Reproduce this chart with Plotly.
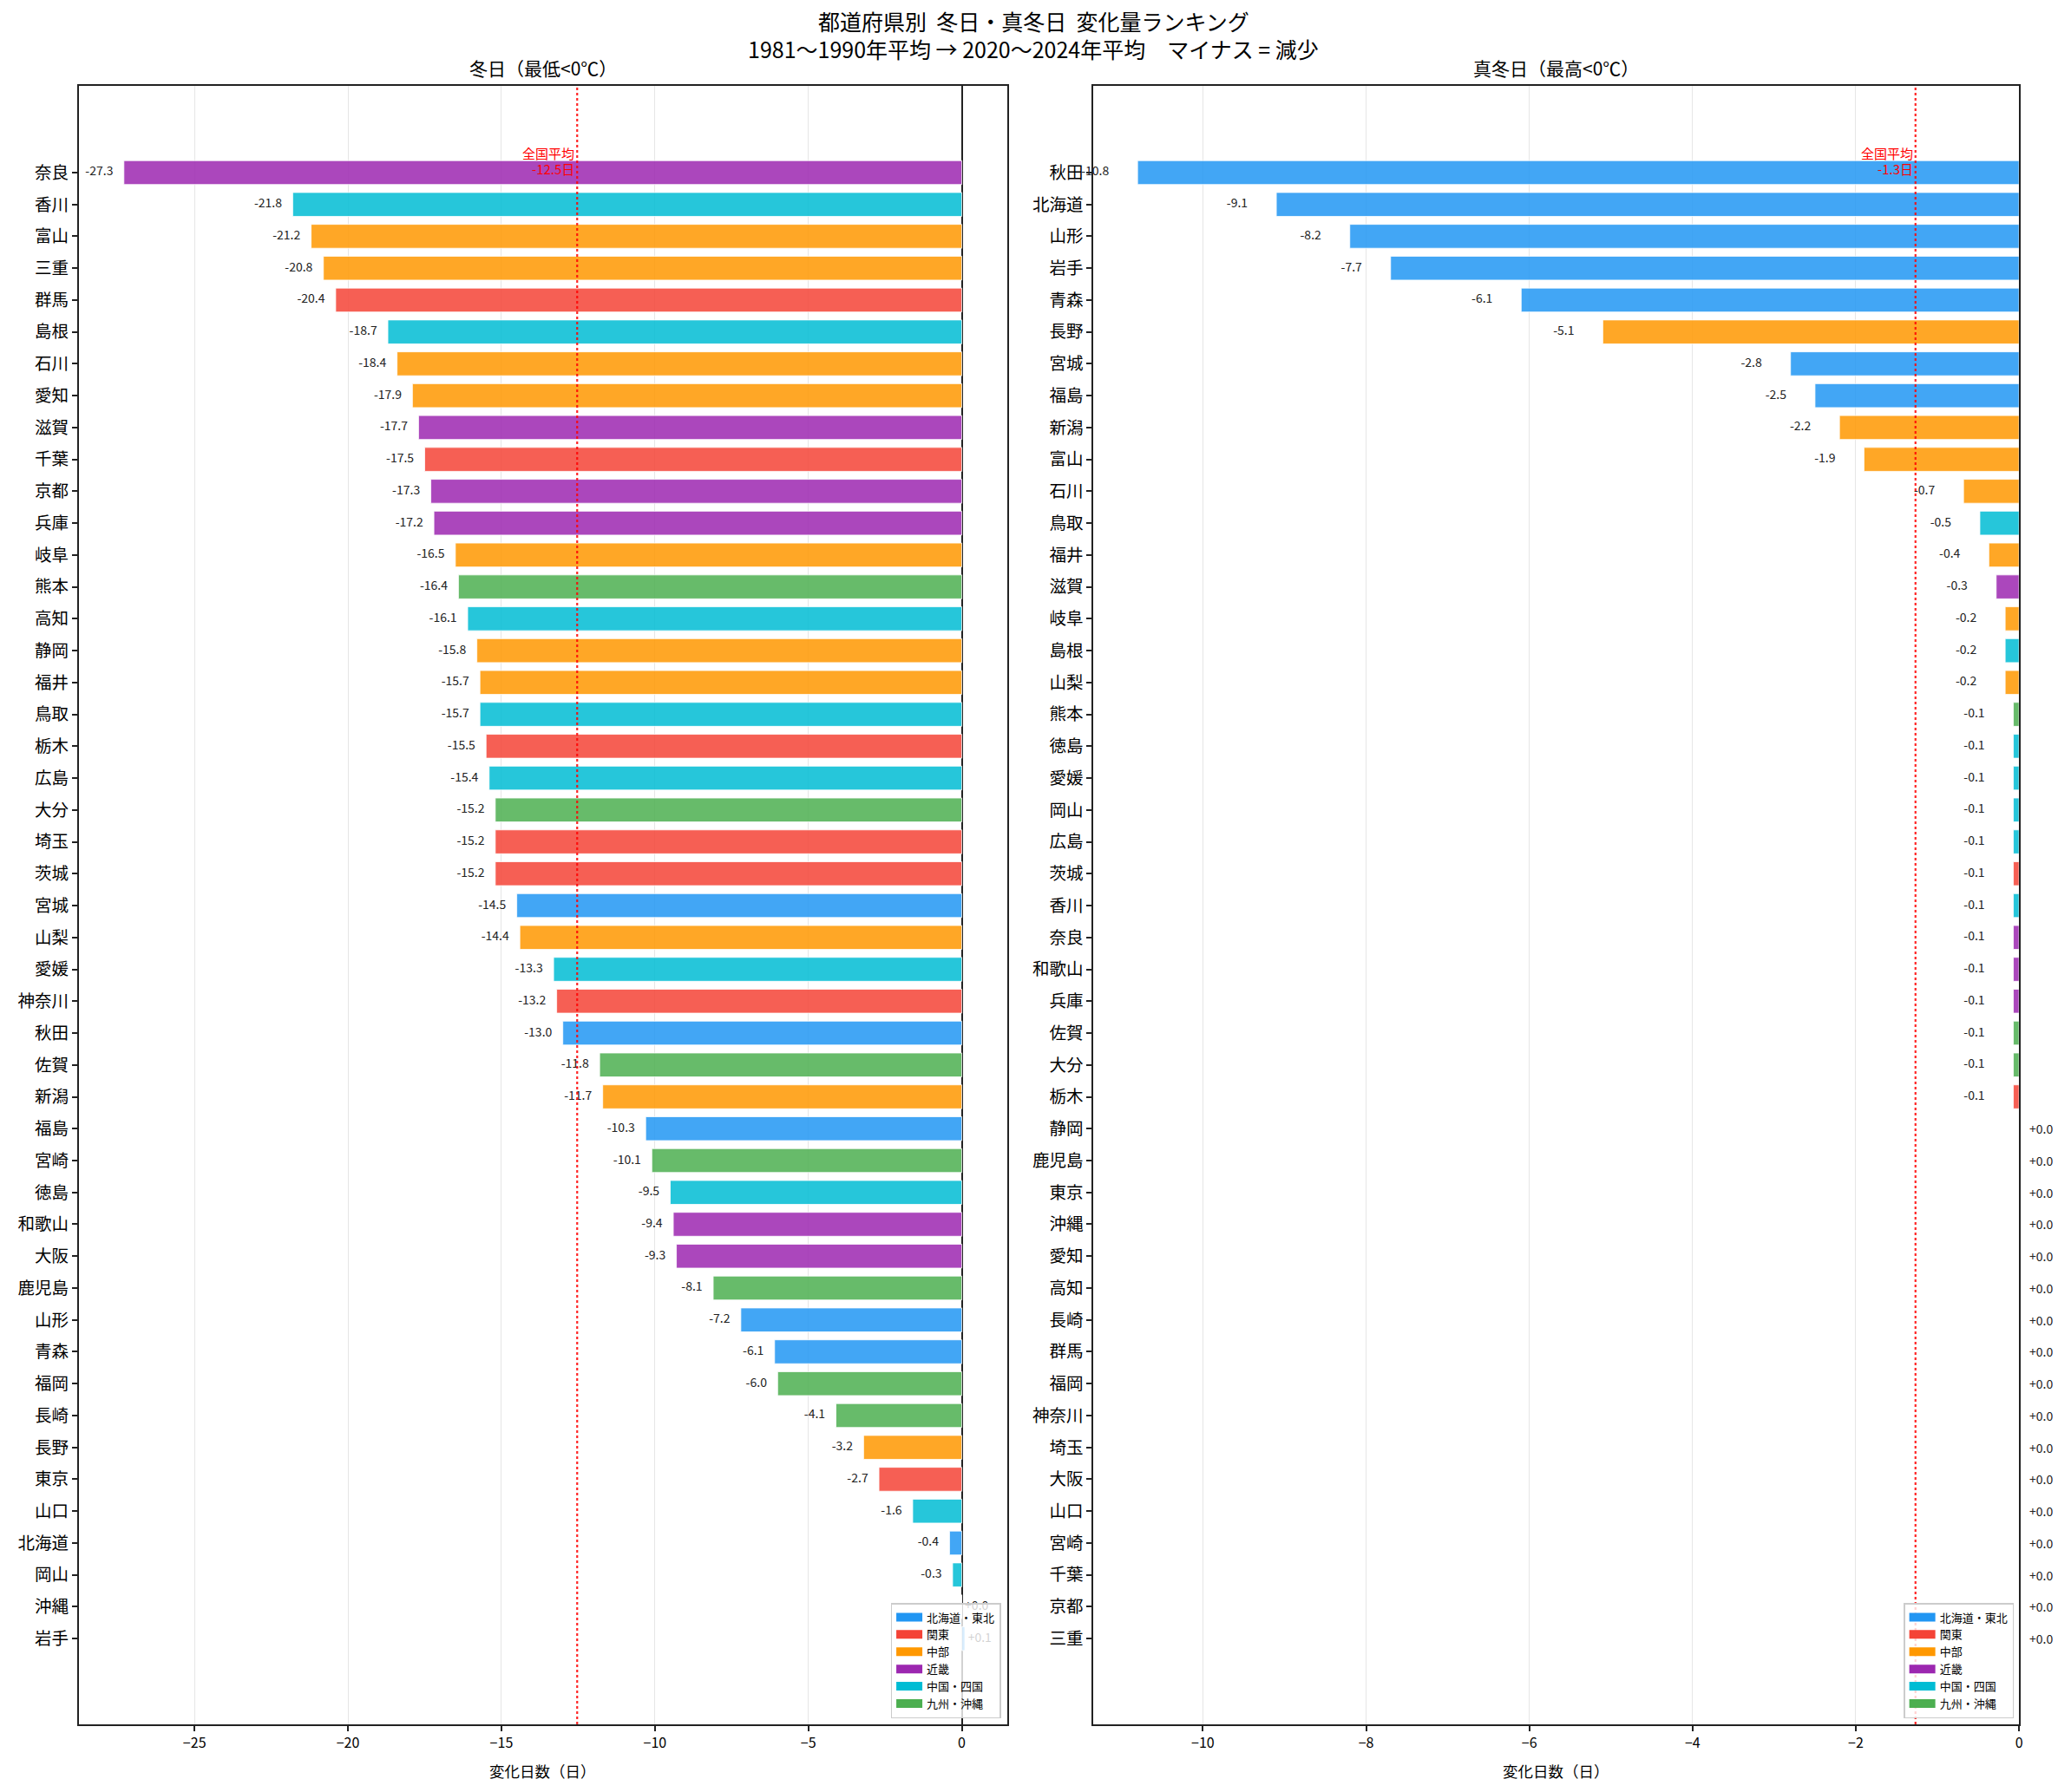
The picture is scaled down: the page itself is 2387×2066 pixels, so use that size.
import plotly.graph_objects as go

FONT = "Noto Sans CJK JP"
W, H = 2387, 2066

# ---------------- data ----------------
region_colors = {
    "北海道・東北": "#2196F3",
    "関東": "#F44336",
    "中部": "#FF9800",
    "近畿": "#9C27B0",
    "中国・四国": "#00BCD4",
    "九州・沖縄": "#4CAF50",
}

pref_region = {
    "北海道": "北海道・東北", "青森": "北海道・東北", "岩手": "北海道・東北", "宮城": "北海道・東北",
    "秋田": "北海道・東北", "山形": "北海道・東北", "福島": "北海道・東北",
    "茨城": "関東", "栃木": "関東", "群馬": "関東", "埼玉": "関東", "千葉": "関東", "東京": "関東", "神奈川": "関東",
    "新潟": "中部", "富山": "中部", "石川": "中部", "福井": "中部", "山梨": "中部", "長野": "中部",
    "岐阜": "中部", "静岡": "中部", "愛知": "中部", "三重": "中部",
    "滋賀": "近畿", "京都": "近畿", "大阪": "近畿", "兵庫": "近畿", "奈良": "近畿", "和歌山": "近畿",
    "鳥取": "中国・四国", "島根": "中国・四国", "岡山": "中国・四国", "広島": "中国・四国", "山口": "中国・四国",
    "徳島": "中国・四国", "香川": "中国・四国", "愛媛": "中国・四国", "高知": "中国・四国",
    "福岡": "九州・沖縄", "佐賀": "九州・沖縄", "長崎": "九州・沖縄", "熊本": "九州・沖縄", "大分": "九州・沖縄",
    "宮崎": "九州・沖縄", "鹿児島": "九州・沖縄", "沖縄": "九州・沖縄",
}

fuyubi_prefs = ["奈良", "香川", "富山", "三重", "群馬", "島根", "石川", "愛知", "滋賀", "千葉",
                "京都", "兵庫", "岐阜", "熊本", "高知", "静岡", "福井", "鳥取", "栃木", "広島",
                "大分", "埼玉", "茨城", "宮城", "山梨", "愛媛", "神奈川", "秋田", "佐賀", "新潟",
                "福島", "宮崎", "徳島", "和歌山", "大阪", "鹿児島", "山形", "青森", "福岡", "長崎",
                "長野", "東京", "山口", "北海道", "岡山", "沖縄", "岩手"]
fuyubi_change = [-27.3, -21.8, -21.2, -20.8, -20.4, -18.7, -18.4, -17.9, -17.7, -17.5,
                 -17.3, -17.2, -16.5, -16.4, -16.1, -15.8, -15.7, -15.7, -15.5, -15.4,
                 -15.2, -15.2, -15.2, -14.5, -14.4, -13.3, -13.2, -13.0, -11.8, -11.7,
                 -10.3, -10.1, -9.5, -9.4, -9.3, -8.1, -7.2, -6.1, -6.0, -4.1,
                 -3.2, -2.7, -1.6, -0.4, -0.3, 0.0, 0.1]

mafuyubi_prefs = ["秋田", "北海道", "山形", "岩手", "青森", "長野", "宮城", "福島", "新潟", "富山",
                  "石川", "鳥取", "福井", "滋賀", "岐阜", "島根", "山梨", "熊本", "徳島", "愛媛",
                  "岡山", "広島", "茨城", "香川", "奈良", "和歌山", "兵庫", "佐賀", "大分", "栃木",
                  "静岡", "鹿児島", "東京", "沖縄", "愛知", "高知", "長崎", "群馬", "福岡", "神奈川",
                  "埼玉", "大阪", "山口", "宮崎", "千葉", "京都", "三重"]
mafuyubi_change = [-10.8, -9.1, -8.2, -7.7, -6.1, -5.1, -2.8, -2.5, -2.2, -1.9,
                   -0.68, -0.48, -0.37, -0.28, -0.17, -0.17, -0.17, -0.07, -0.07, -0.07,
                   -0.07, -0.07, -0.07, -0.07, -0.07, -0.07, -0.07, -0.07, -0.07, -0.07,
                   0.0, 0.0, 0.0, 0.0, 0.0, 0.0, 0.0, 0.0, 0.0, 0.0,
                   0.0, 0.0, 0.0, 0.0, 0.0, 0.0, 0.0]

panel_titles = ["冬日（最低<0℃）", "真冬日（最高<0℃）"]
xaxis_title = "変化日数（日）"
title_line1 = "都道府県別  冬日・真冬日  変化量ランキング"
title_line2 = "1981〜1990年平均 → 2020〜2024年平均　マイナス = 減少"

# ---------------- layout geometry ----------------
def px_x(p):
    return p / W

def px_y(p):
    return 1 - p / H

LEFT_PX = (91, 1163)
RIGHT_PX = (1263, 2332)
dom_left = [px_x(LEFT_PX[0]), px_x(LEFT_PX[1])]
dom_right = [px_x(RIGHT_PX[0]), px_x(RIGHT_PX[1])]
dom_y = [px_y(1988), px_y(99)]
y_range = [46 + 2.69, -2.72]

def hex_rgba(h, a):
    h = h.lstrip("#")
    return f"rgba({int(h[0:2],16)},{int(h[2:4],16)},{int(h[4:6],16)},{a})"

fig = go.Figure()

panels = [
    (fuyubi_prefs, fuyubi_change, "x", "y", [-28.77, 1.47], 5, dom_left, LEFT_PX, "legend"),
    (mafuyubi_prefs, mafuyubi_change, "x2", "y2", [-11.34, 0], 2, dom_right, RIGHT_PX, "legend2"),
]

annotations = []
shapes = []
LABEL_FONT = dict(family=FONT, size=14, color="#222222")

for i, (prefs, vals, xa, ya, xr, dt, dom, pxs, leg) in enumerate(panels):
    idx = list(range(len(prefs)))
    px_per_unit = (pxs[1] - pxs[0]) / (xr[1] - xr[0])
    colors = [hex_rgba(region_colors[pref_region[p]], 0.85) for p in prefs]
    fig.add_trace(go.Bar(
        x=vals, y=idx, orientation="h", xaxis=xa, yaxis=ya,
        marker=dict(color=colors, line=dict(color="white", width=0.8)),
        width=0.75, showlegend=False, hoverinfo="skip",
    ))
    # value labels: in-range ones as text trace (under legend), outside ones as annotations
    tx, ty, tt, tp = [], [], [], []
    for k, v in enumerate(vals):
        lab = f"{v:+.1f}"
        if v < 0:
            pos, anchor, pxshift = v - 0.35, "middle left", -0.35 * px_per_unit
        else:
            pos, anchor, pxshift = v + 0.1, "middle right", 0.1 * px_per_unit
        if xr[0] <= pos <= xr[1]:
            tx.append(pos); ty.append(k); tt.append(lab); tp.append(anchor)
        else:
            annotations.append(dict(x=v, y=k, xref=xa, yref=ya, text=lab, showarrow=False,
                                    xanchor="right" if v < 0 else "left", yanchor="middle",
                                    xshift=pxshift, font=LABEL_FONT))
    fig.add_trace(go.Scatter(
        x=tx, y=ty, mode="text", text=tt, textposition=tp, textfont=LABEL_FONT,
        xaxis=xa, yaxis=ya, showlegend=False, hoverinfo="skip", cliponaxis=False,
    ))
    # legend entries
    for rname, rc in region_colors.items():
        fig.add_trace(go.Scatter(
            x=[None], y=[None], mode="lines", name=rname,
            line=dict(color=rc, width=12), xaxis=xa, yaxis=ya,
            legend=leg, showlegend=True,
        ))
    # average line
    avg = sum(vals) / len(vals)
    shapes.append(dict(type="line", xref=xa, yref=f"{ya} domain", x0=avg, x1=avg, y0=0, y1=1,
                       line=dict(color="rgba(255,0,0,0.85)", width=2.2, dash="dot"), layer="above"))
    annotations.append(dict(x=avg, y=-0.62, xref=xa, yref=ya, text="全国平均", showarrow=False,
                            xanchor="right", yanchor="middle", xshift=-1,
                            font=dict(family=FONT, size=15, color="red")))
    annotations.append(dict(x=avg, y=-0.13, xref=xa, yref=ya, text=f"{avg:.1f}日", showarrow=False,
                            xanchor="right", yanchor="middle", xshift=-1,
                            font=dict(family=FONT, size=15, color="red")))
    # panel title
    annotations.append(dict(x=(dom[0] + dom[1]) / 2, y=px_y(78), xref="paper", yref="paper",
                            text=panel_titles[i], showarrow=False, xanchor="center", yanchor="middle",
                            font=dict(family=FONT, size=21, color="black")))
    annotations.append(dict(x=(dom[0] + dom[1]) / 2, y=px_y(2041), xref="paper", yref="paper",
                            text=xaxis_title, showarrow=False, xanchor="center", yanchor="middle",
                            font=dict(family=FONT, size=17.5, color="black")))

    axis_common = dict(showline=True, linecolor="#222222", linewidth=2, mirror=True,
                       ticks="outside", ticklen=6, tickwidth=1.5, tickcolor="#222222")
    xkey = "xaxis" if xa == "x" else "xaxis2"
    ykey = "yaxis" if ya == "y" else "yaxis2"
    fig.update_layout(**{
        xkey: dict(domain=dom, range=xr, dtick=dt, tick0=0, anchor=ya,
                   showgrid=True, gridcolor="#e6e6e6", gridwidth=1,
                   zeroline=(i == 0), zerolinecolor="#222222", zerolinewidth=1.5,
                   tickfont=dict(family=FONT, size=16, color="black"), **axis_common),
        ykey: dict(domain=dom_y, range=y_range, anchor=xa, tickmode="array",
                   tickvals=idx, ticktext=prefs, showgrid=False, zeroline=False,
                   tickfont=dict(family=FONT, size=19.5, color="black"), **axis_common),
    })

annotations.append(dict(x=0.5, y=px_y(24), xref="paper", yref="paper", text=title_line1,
                        showarrow=False, xanchor="center", yanchor="middle",
                        font=dict(family=FONT, size=25, color="black")))
annotations.append(dict(x=0.5, y=px_y(56), xref="paper", yref="paper", text=title_line2,
                        showarrow=False, xanchor="center", yanchor="middle",
                        font=dict(family=FONT, size=25, color="black")))

legend_common = dict(bgcolor="rgba(255,255,255,0.8)", bordercolor="#cccccc", borderwidth=1.5,
                     font=dict(family=FONT, size=13, color="black"), xanchor="right", yanchor="bottom",
                     tracegroupgap=0, itemwidth=30)

fig.update_layout(
    width=W, height=H, margin=dict(l=0, r=0, t=0, b=0),
    paper_bgcolor="white", plot_bgcolor="white",
    barmode="overlay",
    annotations=annotations, shapes=shapes,
    legend=dict(x=px_x(1156), y=px_y(1981), **legend_common),
    legend2=dict(x=px_x(2326), y=px_y(1981), **legend_common),
    font=dict(family=FONT),
)

fig.write_html("out.html")
